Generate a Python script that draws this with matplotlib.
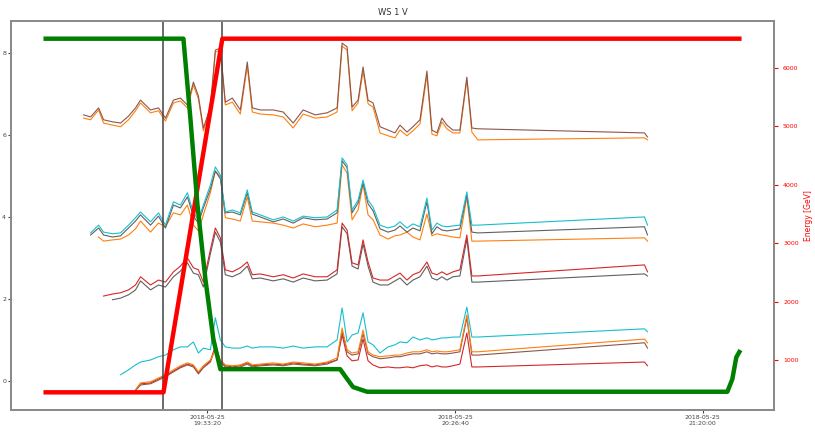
import numpy as np
import matplotlib
matplotlib.use('Agg')
import matplotlib.pyplot as plt
import matplotlib.dates as mdates
from datetime import datetime, timedelta

nan = np.nan
t0 = datetime(2018, 5, 25, 19, 0, 0)

# minutes after 19:00 for the measurement traces
t_meas = [6.67, 8.18, 9.90, 10.97, 12.91, 14.63, 16.35, 17.85, 18.93, 21.08,
          22.80, 24.30, 26.02, 27.53, 29.03, 30.32, 31.40, 32.47, 33.98, 35.05,
          36.13, 37.20, 38.71, 40.43, 41.93, 43.01, 44.73, 47.52, 49.67, 51.82,
          53.97, 56.55, 59.13, 61.28, 62.36, 63.43, 64.51, 65.80, 66.87, 67.95,
          69.02, 70.53, 72.25, 73.75, 74.83, 76.33, 77.62, 79.13, 80.63, 81.71,
          82.78, 83.86, 84.93, 86.22, 87.73, 89.23, 90.31, 91.60, 127.50, 128.15]

a_brown = [6.49, 6.44, 6.66, 6.37, 6.32, 6.29, 6.46, 6.66, 6.85, 6.61,
           6.66, 6.41, 6.85, 6.90, 6.73, 7.29, 6.95, 6.17, 6.68, 8.07,
           8.12, 6.80, 6.90, 6.61, 7.78, 6.66, 6.61, 6.61, 6.56, 6.29,
           6.61, 6.49, 6.54, 6.66, 8.24, 8.15, 6.68, 6.85, 7.66, 6.85,
           6.78, 6.20, 6.12, 6.05, 6.24, 6.07, 6.20, 6.37, 7.56, 6.12,
           6.05, 6.41, 6.24, 6.12, 6.12, 7.41, 6.17, 6.15, 6.05, 5.95]
a_orange = [6.41, 6.37, 6.61, 6.29, 6.24, 6.20, 6.37, 6.59, 6.78, 6.54,
            6.59, 6.34, 6.78, 6.83, 6.66, 7.22, 6.88, 6.10, 6.61, 8.02,
            8.07, 6.73, 6.80, 6.51, 7.68, 6.56, 6.51, 6.49, 6.44, 6.17,
            6.51, 6.41, 6.44, 6.56, 8.17, 8.07, 6.59, 6.78, 7.56, 6.76,
            6.68, 6.05, 5.98, 5.93, 6.12, 5.98, 6.10, 6.27, 7.46, 6.02,
            5.98, 6.32, 6.15, 6.05, 6.05, 7.34, 6.07, 5.88, 5.93, 5.88]

b_cyan = [nan, 3.61, 3.80, 3.63, 3.59, 3.61, 3.80, 3.98, 4.12, 3.88,
          4.10, 3.80, 4.37, 4.29, 4.59, 4.10, 3.93, 4.29, 4.78, 5.22,
          5.02, 4.12, 4.17, 4.10, 4.66, 4.12, 4.05, 3.93, 4.00, 3.90,
          4.02, 3.98, 4.00, 4.17, 5.44, 5.27, 4.17, 4.41, 4.90, 4.41,
          4.24, 3.80, 3.73, 3.78, 3.88, 3.73, 3.83, 3.76, 4.46, 3.68,
          3.85, 3.78, 3.76, 3.78, 3.80, 4.61, 3.80, 3.80, 4.00, 3.80]
b_gray = [nan, 3.56, 3.73, 3.56, 3.51, 3.54, 3.73, 3.90, 4.05, 3.80,
          4.02, 3.73, 4.29, 4.22, 4.49, 4.02, 3.85, 4.22, 4.68, 5.12,
          4.93, 4.10, 4.12, 4.05, 4.59, 4.07, 4.00, 3.88, 3.95, 3.85,
          3.98, 3.93, 3.95, 4.10, 5.37, 5.20, 4.10, 4.34, 4.83, 4.32,
          4.15, 3.71, 3.63, 3.68, 3.78, 3.63, 3.73, 3.66, 4.37, 3.59,
          3.76, 3.68, 3.66, 3.68, 3.71, 4.54, 3.63, 3.61, 3.76, 3.56]
b_orange = [nan, nan, 3.51, 3.41, 3.44, 3.46, 3.56, 3.71, 3.90, 3.63,
            3.85, 3.76, 4.10, 4.05, 4.29, 3.80, 3.66, 4.05, 4.59, 5.12,
            4.98, 3.98, 3.95, 3.90, 4.49, 3.90, 3.88, 3.85, 3.80, 3.73,
            3.83, 3.76, 3.80, 3.85, 5.27, 5.07, 3.93, 4.17, 4.80, 4.05,
            3.93, 3.56, 3.46, 3.54, 3.56, 3.63, 3.51, 3.44, 4.07, 3.54,
            3.59, 3.56, 3.54, 3.51, 3.49, 4.49, 3.41, 3.41, 3.49, 3.41]

c_red = [nan, nan, nan, 2.07, 2.12, 2.15, 2.22, 2.34, 2.54, 2.34,
         2.46, 2.41, 2.66, 2.80, 3.00, 2.76, 2.71, 2.41, 3.20, 3.73,
         3.49, 2.71, 2.66, 2.76, 2.90, 2.59, 2.61, 2.54, 2.59, 2.51,
         2.61, 2.54, 2.54, 2.71, 3.85, 3.68, 2.88, 2.83, 3.44, 2.90,
         2.51, 2.46, 2.46, 2.56, 2.63, 2.46, 2.59, 2.66, 2.90, 2.63,
         2.59, 2.66, 2.59, 2.66, 2.71, 3.56, 2.56, 2.56, 2.83, 2.66]
c_gray = [nan, nan, nan, nan, 1.98, 2.02, 2.10, 2.22, 2.44, 2.22,
          2.34, 2.29, 2.54, 2.68, 2.88, 2.63, 2.59, 2.29, 3.10, 3.63,
          3.39, 2.59, 2.54, 2.63, 2.80, 2.49, 2.51, 2.44, 2.49, 2.41,
          2.51, 2.44, 2.46, 2.61, 3.76, 3.59, 2.80, 2.73, 3.34, 2.80,
          2.41, 2.34, 2.34, 2.44, 2.51, 2.34, 2.46, 2.54, 2.80, 2.51,
          2.46, 2.54, 2.46, 2.54, 2.56, 3.46, 2.41, 2.41, 2.61, 2.56]

d_cyan = [nan, nan, nan, nan, nan, 0.15, 0.27, 0.39, 0.46, 0.51,
          0.59, 0.63, 0.76, 0.83, 0.83, 0.95, 0.68, 0.80, 0.76, 1.54,
          1.00, 0.83, 0.80, 0.80, 0.85, 0.80, 0.83, 0.83, 0.80, 0.85,
          0.80, 0.83, 0.83, 1.00, 1.78, 0.95, 1.12, 1.17, 1.66, 0.95,
          0.88, 0.68, 0.83, 0.88, 0.95, 0.93, 1.07, 1.00, 1.05, 1.00,
          1.02, 1.05, 1.05, 1.07, 1.07, 1.80, 1.07, 1.07, 1.27, 1.20]
d_orange = [nan, nan, nan, nan, nan, nan, nan, -0.22, -0.05, -0.02,
            0.07, 0.15, 0.27, 0.37, 0.44, 0.39, 0.22, 0.37, 0.51, 0.76,
            0.51, 0.39, 0.37, 0.39, 0.46, 0.39, 0.41, 0.44, 0.41, 0.46,
            0.44, 0.41, 0.46, 0.56, 1.29, 0.76, 0.68, 0.71, 1.24, 0.71,
            0.63, 0.59, 0.61, 0.63, 0.63, 0.68, 0.71, 0.71, 0.76, 0.71,
            0.73, 0.71, 0.71, 0.73, 0.76, 1.61, 0.71, 0.71, 1.02, 0.93]
d_brown = [nan, nan, nan, nan, nan, nan, nan, -0.24, -0.10, -0.07,
           0.02, 0.10, 0.22, 0.32, 0.39, 0.34, 0.17, 0.32, 0.46, 0.80,
           0.46, 0.34, 0.32, 0.34, 0.41, 0.34, 0.37, 0.39, 0.37, 0.41,
           0.39, 0.37, 0.41, 0.51, 1.20, 0.71, 0.63, 0.66, 1.15, 0.66,
           0.59, 0.54, 0.56, 0.59, 0.59, 0.63, 0.66, 0.66, 0.71, 0.66,
           0.68, 0.66, 0.66, 0.68, 0.71, 1.54, 0.63, 0.63, 0.93, 0.80]
d_red = [nan, nan, nan, nan, nan, nan, nan, -0.22, -0.07, -0.05,
         0.05, 0.12, 0.24, 0.34, 0.41, 0.37, 0.20, 0.34, 0.49, 0.85,
         0.49, 0.37, 0.34, 0.37, 0.44, 0.37, 0.39, 0.41, 0.39, 0.44,
         0.41, 0.39, 0.44, 0.51, 1.12, 0.61, 0.49, 0.51, 1.02, 0.49,
         0.39, 0.32, 0.34, 0.32, 0.32, 0.34, 0.32, 0.37, 0.39, 0.34,
         0.37, 0.34, 0.34, 0.37, 0.41, 1.17, 0.34, 0.34, 0.46, 0.37]

# beam energy [GeV]
t_energy = [-1.50, 23.87, 36.56, 147.93]
energy = [450, 450, 6500, 6500]

# second machine trace (drawn on the energy scale)
t_green = [-1.50, 28.17, 29.68, 31.18, 32.90, 34.62, 36.13, 61.93, 63.43,
           64.72, 67.73, 145.35, 146.42, 147.28, 147.93]
green = [6500, 6500, 5130, 3670, 2390, 1360, 846, 846, 680,
         540, 460, 460, 675, 1050, 1140]

# start / end of ramp
t_marks = [23.87, 36.56]

# x ticks
tick_times = ['2018-05-25 19:33:20', '2018-05-25 20:26:40', '2018-05-25 21:20:00']


def to_dt(mins):
    return [t0 + timedelta(minutes=m) for m in mins]


fig = plt.figure(figsize=(8.15, 4.34), dpi=100)
ax = fig.add_axes([0.0135, 0.0553, 0.9362, 0.8963])
ax2 = ax.twinx()

xm = to_dt(t_meas)
series = [(d_red, 'tab:red'), (d_brown, 'tab:brown'), (d_orange, 'tab:orange'), (d_cyan, 'tab:cyan'),
          (c_gray, '#606060'), (c_red, 'tab:red'),
          (b_orange, 'tab:orange'), (b_gray, '#606060'), (b_cyan, 'tab:cyan'),
          (a_orange, 'tab:orange'), (a_brown, 'tab:brown')]
for vals, col in series:
    ax.plot(xm, vals, color=col, lw=0.8)

for tm in t_marks:
    ax.axvline(to_dt([tm])[0], color='#444444', lw=1.1)

ax2.plot(to_dt(t_energy), energy, color='red', lw=3.2)
ax2.plot(to_dt(t_green), green, color='green', lw=3.2)

ax.set_ylim(-0.71, 8.78)
ax.set_yticks([0, 2, 4, 6, 8])
ax.set_xticks([datetime.strptime(s, '%Y-%m-%d %H:%M:%S') for s in tick_times])
ax.xaxis.set_major_formatter(mdates.DateFormatter('%Y-%m-%d\n%H:%M:%S'))
ax.tick_params(labelsize=4.5, length=2, pad=1.5, colors='#444444')
ax2.set_yticks([1000, 2000, 3000, 4000, 5000, 6000])
ax2.tick_params(axis='y', labelsize=4.5, length=3, colors='red')
ax2.set_ylabel('Energy [GeV]', color='red', fontsize=5.5)

for a in (ax, ax2):
    for s in a.spines.values():
        s.set_color('#888888')
        s.set_linewidth(1.2)

ax.set_title('WS 1 V', fontsize=6, color='#333333', pad=4)

fig.savefig('out.png', dpi=100)
